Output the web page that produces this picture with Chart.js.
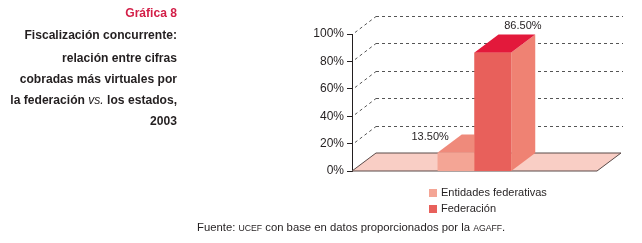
<!DOCTYPE html>
<html>
<head>
<meta charset="utf-8">
<script src="https://cdn.jsdelivr.net/npm/chart.js@4"></script>
<style>
  body { margin: 0; background: #fff; font-family: "Liberation Sans", Arial, sans-serif; }
  #wrap { position: relative; width: 642px; height: 243px; overflow: hidden; }
  #c { position: absolute; left: 0; top: 0; }
  .tl { position: absolute; left: 0; width: 177px; text-align: right; font-weight: bold; font-size: 12.1px; color: #231f20; line-height: 14px; white-space: nowrap; }
  .tl.red { color: #d31f48; }
  .lg { position: absolute; left: 429px; font-size: 11px; color: #231f20; line-height: 12px; white-space: nowrap; }
  .lg i { display: inline-block; width: 8px; height: 8px; margin-right: 4px; vertical-align: -1px; }
  .sc { font-size: 8.7px; }
  #src { position: absolute; left: 197px; top: 221px; font-size: 11.3px; color: #231f20; white-space: nowrap; }
</style>
</head>
<body>
<div id="wrap">
  <canvas id="c" width="642" height="243"></canvas>
  <div class="tl red" style="top:6px">Gráfica 8</div>
  <div class="tl" style="top:28px">Fiscalización concurrente:</div>
  <div class="tl" style="top:51px">relación entre cifras</div>
  <div class="tl" style="top:72px">cobradas más virtuales por</div>
  <div class="tl" style="top:93px">la federación <span style="font-style:italic;font-weight:normal">vs.</span> los estados,</div>
  <div class="tl" style="top:114px">2003</div>
  <div class="lg" style="top:186px"><i style="background:#f4a595"></i>Entidades federativas</div>
  <div class="lg" style="top:202px"><i style="background:#e8605b"></i>Federación</div>
  <div id="src">Fuente: <span class="sc">UCEF</span> con base en datos proporcionados por la <span class="sc">AGAFF</span>.</div>
</div>
<script>
const categories = ['2003'];
const entidades = [13.5];
const federacion = [86.5];
const yTicks = [0, 20, 40, 60, 80, 100];

// depth of the fake 3d
const DX = 24, DY = -18;

const faces = [
  { front: '#f4a595', top: '#ef8a7b', side: '#ef8a7b' },
  { front: '#e8605b', top: '#e3193b', side: '#ef8273' }
];

function poly(ctx, pts, fill, stroke) {
  ctx.beginPath();
  ctx.moveTo(pts[0][0], pts[0][1]);
  for (let i = 1; i < pts.length; i++) ctx.lineTo(pts[i][0], pts[i][1]);
  ctx.closePath();
  if (fill) { ctx.fillStyle = fill; ctx.fill(); }
  if (stroke) { ctx.strokeStyle = stroke; ctx.lineWidth = 1; ctx.stroke(); }
}

const box3d = {
  id: 'box3d',
  beforeDatasetsDraw(chart) {
    const { ctx, chartArea: a, scales: { y } } = chart;
    const y0 = y.getPixelForValue(0);
    ctx.save();
    // back grid + diagonals
    ctx.strokeStyle = '#555';
    ctx.lineWidth = 1;
    ctx.setLineDash([3, 3]);
    yTicks.forEach(v => {
      if (v === 0) return;
      const py = Math.round(y.getPixelForValue(v)) + 0.5;
      ctx.beginPath();
      ctx.moveTo(a.left + DX, py + DY);
      ctx.lineTo(a.right + DX + 2, py + DY);
      ctx.moveTo(a.left + 3, py - 2);
      ctx.lineTo(a.left + DX, py + DY);
      ctx.stroke();
    });
    ctx.setLineDash([]);
    // floor
    poly(ctx, [[a.left, y0], [a.right, y0], [a.right + DX, y0 + DY], [a.left + DX, y0 + DY]], '#f9cec5', '#5a4a48');
    ctx.restore();
  },
  afterDatasetsDraw(chart) {
    const { ctx, scales: { y } } = chart;
    const y0 = y.getPixelForValue(0);
    ctx.save();
    const bars = chart.data.datasets.map((ds, i) => chart.getDatasetMeta(i).data[0]);
    bars.forEach((b, i) => {
      const l = b.x - b.width / 2, r = b.x + b.width / 2, t = b.y;
      const f = faces[i];
      poly(ctx, [[l, t], [r, t], [r, y0], [l, y0]], f.front);
      poly(ctx, [[r, t], [r + DX, t + DY], [r + DX, y0 + DY], [r, y0]], f.side);
      poly(ctx, [[l, t], [r, t], [r + DX, t + DY], [l + DX, t + DY]], f.top);
    });
    // value labels
    ctx.fillStyle = '#231f20';
    ctx.font = '11px "Liberation Sans", Arial, sans-serif';
    ctx.textAlign = 'center';
    ctx.textBaseline = 'middle';
    const vals = [entidades[0], federacion[0]];
    ctx.fillText(vals[0].toFixed(2) + '%', bars[0].x - 26, bars[0].y - 16);
    ctx.fillText(vals[1].toFixed(2) + '%', bars[1].x + 30, bars[1].y - 27);
    ctx.restore();
  }
};

new Chart(document.getElementById('c'), {
  type: 'bar',
  data: {
    labels: categories,
    datasets: [
      { label: 'Entidades federativas', data: entidades, backgroundColor: faces[0].front },
      { label: 'Federación', data: federacion, backgroundColor: faces[1].front }
    ]
  },
  options: {
    responsive: false,
    animation: false,
    categoryPercentage: 0.3,
    barPercentage: 1,
    layout: { padding: { left: 312, top: 34, right: 45, bottom: 72 } },
    plugins: { legend: { display: false }, tooltip: { enabled: false } },
    scales: {
      x: { display: false },
      y: {
        min: 0,
        max: 100,
        afterFit: s => { s.width = 40; },
        afterBuildTicks: s => { s.ticks = yTicks.map(v => ({ value: v })); },
        ticks: {
          callback: v => v + '%',
          color: '#231f20',
          padding: 3,
          font: { family: '"Liberation Sans", Arial, sans-serif', size: 12 }
        },
        grid: { drawOnChartArea: false, drawTicks: true, tickLength: 5, color: '#231f20' },
        border: { color: '#231f20' }
      }
    }
  },
  plugins: [box3d]
});
</script>
</body>
</html>
